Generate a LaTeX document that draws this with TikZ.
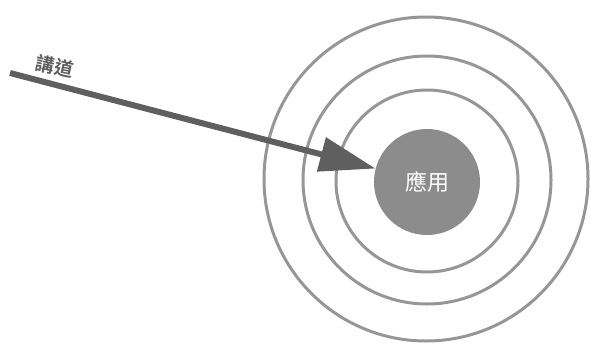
\documentclass[tikz,border=0pt]{standalone}
\usepackage{fontspec}
\newfontfamily\cjk{Noto Sans CJK TC}
\newfontfamily\cjkbold{Noto Sans CJK TC Bold}
\usetikzlibrary{arrows.meta}
\definecolor{ringgray}{RGB}{150,150,150}
\definecolor{diskgray}{RGB}{140,140,140}
\definecolor{arrowgray}{RGB}{95,95,95}
\begin{document}
\begin{tikzpicture}[x=1pt,y=-1pt,
  ring/.style={draw=ringgray,line width=3pt,circle,minimum size=#1,inner sep=0pt},
  disk/.style={fill=diskgray,circle,minimum size=106pt,inner sep=0pt,text=white,font=\cjk\fontsize{22}{24}\selectfont},
  pointer/.style={draw=arrowgray,line width=6pt,-{Triangle[length=56pt,width=34pt]}},
  lbl/.style={font=\cjkbold\fontsize{19}{21}\selectfont,text=arrowgray,inner sep=0pt}]
\useasboundingbox (0,0) rectangle (591,345);
\node[ring=324pt] (r3) at (426,179) {};
\node[ring=248pt] (r2) at (427,180) {};
\node[ring=182pt] (r1) at (427,181) {};
\node[disk] (app) at (427,182) {應用};
\coordinate (src) at (10,73);
\draw[pointer] (src) -- (app);
\node[lbl,rotate=-12] (talk) at (55,66) {講道};
\end{tikzpicture}
\end{document}
